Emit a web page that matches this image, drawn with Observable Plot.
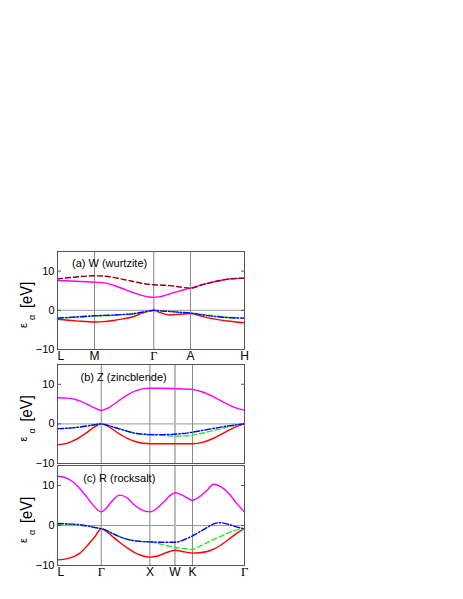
<!DOCTYPE html>
<html><head><meta charset="utf-8">
<script src="https://cdn.jsdelivr.net/npm/d3@7"></script>
<script src="https://cdn.jsdelivr.net/npm/@observablehq/plot@0.6"></script>
<style>
body{margin:0;background:#fff;}
#chart{position:relative;width:463px;height:599px;}
#chart svg{position:absolute;left:0;background:transparent;overflow:visible;}
</style></head><body><div id="chart"></div>
<script>
// ---------- tick labels / k-points ----------
const yTicks = [-10, 0, 10];
const wzLabels = ["L", "M", "Γ", "A", "H"];
const wzPos = [0, 0.198, 0.515, 0.711, 1];
const fccLabels = ["L", "Γ", "X", "W", "K", "Γ"];
const fccPos = [0, 0.234, 0.494, 0.628, 0.722, 1];

// ---------- panel (a) W (wurtzite) ----------
const aX =      [0, 0.1, 0.198, 0.25, 0.3, 0.35, 0.4, 0.45, 0.49, 0.515, 0.55, 0.6, 0.65, 0.711, 0.78, 0.85, 0.92, 1];
const aMag =    [7.6, 7.4, 7.15, 7.0, 6.4, 5.5, 4.6, 3.8, 3.4, 3.3, 3.5, 4.2, 4.9, 5.65, 6.6, 7.4, 8.0, 8.2];
const aDark =   [8.0, 8.5, 8.8, 8.7, 8.4, 7.9, 7.4, 6.9, 6.6, 6.5, 6.45, 6.3, 6.0, 5.65, 6.6, 7.4, 8.0, 8.2];
const aRed =    [-2.3, -2.7, -3.0, -2.9, -2.6, -2.2, -1.7, -0.8, -0.2, 0, -0.6, -1.2, -1.0, -0.8, -1.6, -2.3, -2.8, -3.2];
const aGreen =  [-2.0, -1.8, -1.5, -1.4, -1.3, -1.15, -1.0, -0.6, -0.2, 0, -0.15, -0.3, -0.5, -0.7, -1.1, -1.5, -1.8, -2.0];
const aBlue =   [-2.0, -1.7, -1.4, -1.3, -1.2, -1.05, -0.9, -0.5, -0.15, 0, -0.15, -0.3, -0.5, -0.7, -1.2, -1.6, -1.9, -2.0];

// ---------- panel (b) Z (zincblende) ----------
const bX =      [0, 0.05, 0.1, 0.15, 0.2, 0.234, 0.27, 0.32, 0.37, 0.42, 0.46, 0.494, 0.56, 0.628, 0.722, 0.78, 0.84, 0.9, 0.95, 1];
const bMag =    [6.6, 6.5, 6.1, 5.2, 4.0, 3.4, 4.0, 5.6, 7.2, 8.4, 8.9, 9.0, 9.0, 8.9, 8.7, 8.0, 6.7, 5.2, 4.1, 3.4];
const bRed =    [-5.3, -4.9, -3.9, -2.4, -0.7, 0, -0.6, -2.2, -3.6, -4.5, -4.9, -5.0, -5.0, -5.0, -5.0, -4.6, -3.5, -2.0, -0.8, 0];
const bGreen =  [-1.2, -1.1, -0.9, -0.6, -0.2, 0, -0.4, -1.1, -1.8, -2.4, -2.6, -2.75, -2.9, -3.1, -2.8, -2.3, -1.6, -0.9, -0.35, 0];
const bBlue =   [-1.2, -1.1, -0.9, -0.6, -0.2, 0, -0.4, -1.1, -1.8, -2.4, -2.6, -2.7, -2.7, -2.6, -2.1, -1.6, -1.1, -0.6, -0.25, 0];

// ---------- panel (c) R (rocksalt) ----------
const cX =      [0, 0.04, 0.08, 0.12, 0.16, 0.2, 0.234, 0.26, 0.29, 0.332, 0.37, 0.41, 0.45, 0.494, 0.53, 0.57, 0.6, 0.628, 0.68, 0.722, 0.76, 0.8, 0.835, 0.87, 0.92, 0.96, 1];
const cMag =    [12.3, 12.0, 11.0, 9.2, 6.9, 4.6, 3.4, 4.3, 6.0, 7.6, 7.0, 5.2, 3.9, 3.4, 4.2, 6.0, 7.4, 8.2, 7.3, 6.3, 7.2, 8.8, 10.3, 9.8, 7.8, 5.4, 3.4];
const cRed =    [-8.6, -8.4, -7.9, -6.9, -5.0, -2.8, -0.8, -1.4, -2.6, -4.2, -5.5, -6.7, -7.5, -7.9, -7.7, -7.0, -6.5, -6.2, -6.6, -6.9, -6.8, -6.5, -5.9, -5.0, -3.3, -1.9, -0.8];
const cGreen =  [0.3, 0.25, 0.15, 0.0, -0.2, -0.5, -0.8, -1.2, -1.9, -2.8, -3.4, -3.8, -4.0, -4.1, -4.4, -4.9, -5.2, -5.5, -5.8, -6.0, -5.2, -4.3, -3.5, -2.8, -1.7, -1.1, -0.8];
const cBlue =   [0.5, 0.45, 0.35, 0.2, -0.1, -0.5, -0.8, -1.2, -1.9, -2.8, -3.4, -3.8, -4.0, -4.1, -4.15, -4.2, -4.2, -4.2, -3.5, -2.6, -1.6, -0.5, 0.4, 0.7, 0.2, -0.4, -0.8];

const panels = [
  {title: "(a) W (wurtzite)", top: 245, mt: 6, mb: 16, frameH: 98, xs: aX, labels: wzLabels, pos: wzPos, showX: true, wIdx: -1, tdx: 14.5, tdy: 8,
   cond: [[aMag, "#ff00ff", null], [aDark, "#8b0000", "5,3"]],
   val: [[aRed, "#ff0000", null], [aGreen, "#22ee22", "5,3"], [aBlue, "#0000ff", "6,2,1.5,2"]]},
  {title: "(b) Z (zincblende)", top: 362, mt: 2, mb: 2, frameH: 99, xs: bX, labels: fccLabels, pos: fccPos, showX: false, wIdx: 3, tdx: 23, tdy: 8.2,
   cond: [[bMag, "#ff00ff", null]],
   val: [[bRed, "#ff0000", null], [bGreen, "#22ee22", "5,3"], [bBlue, "#0000ff", "6,2,1.5,2"]]},
  {title: "(c) R (rocksalt)", top: 463, mt: 2, mb: 16, frameH: 100, xs: cX, labels: fccLabels, pos: fccPos, showX: true, wIdx: 3, tdx: 25.7, tdy: 8.9,
   cond: [[cMag, "#ff00ff", null]],
   val: [[cRed, "#ff0000", null], [cGreen, "#22ee22", "5,3"], [cBlue, "#0000ff", "6,2,1.5,2"]]}
];

const chart = document.getElementById("chart");

for (const p of panels) {
  const kpts = p.labels.map((name, i) => ({name, x: p.pos[i], i}));
  const inner = kpts.filter((d, i) => i > 0 && i < kpts.length - 1);
  const series = [...p.cond, ...p.val];
  const lineMarks = series.map(([ys, color, dash]) =>
    Plot.line(p.xs.map((x, i) => ({x, y: ys[i]})), {
      x: "x", y: "y", stroke: color, strokeWidth: 1.4,
      strokeDasharray: dash, curve: "monotone-x"
    }));

  const marks = [
    Plot.ruleY([0], {stroke: "#999", strokeWidth: 1}),
    Plot.ruleX(inner.filter(d => d.i !== p.wIdx), {x: "x", stroke: "#888", strokeWidth: 1}),
    Plot.ruleX(inner.filter(d => d.i === p.wIdx), {x: "x", stroke: "#bbb", strokeWidth: 2}),
    ...lineMarks,
    Plot.frame({stroke: "#555", strokeWidth: 1}),
    Plot.axisY({anchor: "left", ticks: yTicks, tickSize: -4, tickPadding: 7, fontSize: 11, label: null, stroke: "#555"}),
    Plot.axisY({anchor: "right", ticks: yTicks, tickSize: -4, tickFormat: () => "", label: null, stroke: "#555"}),
    Plot.text([p.title], {frameAnchor: "top-left", dx: p.tdx, dy: p.tdy, lineAnchor: "top", textAnchor: "start", fontSize: 11, fill: "#000"})
  ];
  if (p.showX) {
    marks.push(
      Plot.text(kpts.filter(d => d.i === 0), {x: "x", text: "name", frameAnchor: "bottom", lineAnchor: "top", dy: 1.5, textAnchor: "start", fontSize: 12}),
      Plot.text(kpts.filter(d => d.i > 0 && d.name !== "Γ"), {x: "x", text: "name", frameAnchor: "bottom", lineAnchor: "top", dy: 1.5, fontSize: 12}),
      Plot.text(kpts.filter(d => d.name === "Γ"), {x: "x", text: "name", frameAnchor: "bottom", lineAnchor: "top", dy: 1.5, fontSize: 12.5, fontFamily: "Liberation Serif, serif"})
    );
  }

  const svg = Plot.plot({
    width: 463,
    height: p.mt + p.frameH + p.mb,
    marginLeft: 57, marginRight: 219, marginTop: p.mt, marginBottom: p.mb,
    style: {fontFamily: "Liberation Sans, Arial, sans-serif", background: "transparent", color: "#000", overflow: "visible"},
    x: {domain: [0, 1], axis: null},
    y: {domain: [-10, 15], axis: null},
    marks
  });
  svg.style.top = p.top + "px";
  chart.appendChild(svg);

  // y-axis label ε_α [eV]  (rotated; reads bottom to top)
  const oy = p.mt + p.frameH / 2 + 28;
  const t = d3.select(svg).append("text")
    .attr("transform", `translate(31.5,${oy}) rotate(-90)`)
    .attr("text-anchor", "start")
    .attr("font-family", "Liberation Sans, Arial, sans-serif")
    .attr("fill", "#000");
  t.append("tspan").attr("x", 0).attr("dy", -4.5).attr("font-size", 11).text("ε");
  t.append("tspan").attr("x", 8).attr("dy", 8).attr("font-size", 9).text("α");
  t.append("tspan").attr("x", 20).attr("dy", -3.5).attr("font-size", 17)
    .attr("textLength", 26.3).attr("lengthAdjust", "spacingAndGlyphs").text("[eV]");
}
</script></body></html>
